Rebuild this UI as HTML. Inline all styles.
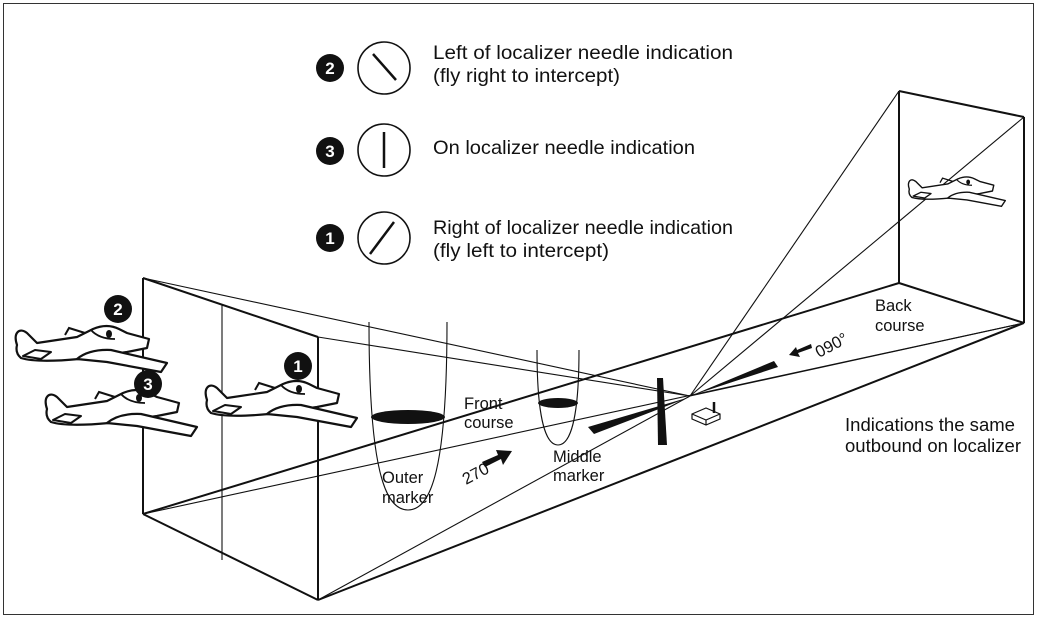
<!DOCTYPE html>
<html><head><meta charset="utf-8"><style>
html,body{margin:0;padding:0;background:#fff;}
svg{display:block;}
text{font-family:"Liberation Sans",Arial,sans-serif;fill:#111;}
</style></head><body>
<svg width="1038" height="619" viewBox="0 0 1038 619" xmlns="http://www.w3.org/2000/svg">
<defs>
<g id="plane">
  <path d="M2,22 C-2,10 4,4 12,10 L22,20 L62,14 L78,6 Q92,0 104,6 L112,10 L134,16 L132,25 L112,29 L64,36 Q22,40 6,35 Q0,30 2,22 Z" fill="#fff" stroke="#111" stroke-width="2.2" stroke-linejoin="round"/>
  <path d="M62,36 Q74,26 96,27 L152,40 L146,49 L92,39 Z" fill="#fff" stroke="#111" stroke-width="2.2" stroke-linejoin="round"/>
  <path d="M8,33 L20,27 L36,29 L26,36 Z" fill="#fff" stroke="#111" stroke-width="2" stroke-linejoin="round"/>
  <path d="M50,12 L54,5 L70,10" fill="none" stroke="#111" stroke-width="2"/>
  <path d="M76,7 Q84,16 100,16" fill="none" stroke="#111" stroke-width="1.8"/>
  <ellipse cx="94" cy="11" rx="3" ry="4" fill="#111"/>
</g>
</defs>
<rect x="3.5" y="3.5" width="1030" height="611" fill="none" stroke="#333" stroke-width="1"/>

<g stroke="#111" stroke-width="1.1" fill="none">
  <line x1="143" y1="278" x2="690" y2="396"/>
  <line x1="318" y1="337" x2="690" y2="396"/>
  <line x1="318" y1="600" x2="690" y2="396"/>
  <line x1="690" y1="396" x2="899" y2="91"/>
  <line x1="690" y1="396" x2="1024" y2="117"/>
  <line x1="690" y1="396" x2="1024" y2="323"/>
  <line x1="143" y1="514" x2="1024" y2="323"/>
  <line x1="222" y1="305" x2="222" y2="560"/>
</g>
<g stroke="#111" stroke-width="2" fill="none">
  <line x1="143" y1="278" x2="143" y2="514"/>
  <line x1="143" y1="278" x2="318" y2="337"/>
  <line x1="318" y1="337" x2="318" y2="600"/>
  <line x1="143" y1="514" x2="318" y2="600"/>
  <line x1="143" y1="514" x2="899" y2="283"/>
  <line x1="318" y1="600" x2="1024" y2="323"/>
  <line x1="899" y1="91" x2="899" y2="283"/>
  <line x1="899" y1="91" x2="1024" y2="117"/>
  <line x1="1024" y1="117" x2="1024" y2="323"/>
  <line x1="899" y1="283" x2="1024" y2="323"/>
</g>

<path d="M369,322 C369,470 385,510 408,510 C431,510 447,470 447,322" fill="none" stroke="#111" stroke-width="1.1"/>
<ellipse cx="408" cy="417" rx="37" ry="7" fill="#111"/>
<path d="M537,350 C537,420 546,445 558,445 C570,445 579,420 579,350" fill="none" stroke="#111" stroke-width="1.1"/>
<ellipse cx="558" cy="403" rx="20" ry="5" fill="#111"/>

<polygon points="588,427 594,434 690,397" fill="#111"/>
<polygon points="690,396 774,361 778,367" fill="#111"/>
<polygon points="657,378 663,378 667,445 658,445" fill="#111"/>
<path d="M692,414 L706,408 L720,414 L720,419 L706,425 L692,419 Z M692,414 L706,420 L720,414 M706,420 L706,425" fill="#fff" stroke="#111" stroke-width="1.2"/>
<line x1="714" y1="402" x2="714" y2="413" stroke="#111" stroke-width="2.5"/>

<polygon points="482,462 498,455 496,450 512,451 503,465 501,459 485,467" fill="#111"/>
<polygon points="812,348 798,353 800,357 789,355 796,347 797,350 811,344" fill="#111"/>

<use href="#plane" transform="translate(15,323)"/>
<use href="#plane" transform="translate(45,387)"/>
<use href="#plane" transform="translate(205,378)"/>
<use href="#plane" transform="translate(908,175) scale(0.64)"/>

<g font-weight="bold" font-size="17" text-anchor="middle">
  <circle cx="118" cy="309" r="14" fill="#111"/><text x="118" y="315" style="fill:#fff">2</text>
  <circle cx="298" cy="366" r="14" fill="#111"/><text x="298" y="372" style="fill:#fff">1</text>
  <circle cx="148" cy="384" r="14" fill="#111"/><text x="148" y="390" style="fill:#fff">3</text>
  <circle cx="330" cy="68" r="14" fill="#111"/><text x="330" y="74" style="fill:#fff">2</text>
  <circle cx="330" cy="151" r="14" fill="#111"/><text x="330" y="157" style="fill:#fff">3</text>
  <circle cx="330" cy="238" r="14" fill="#111"/><text x="330" y="244" style="fill:#fff">1</text>
</g>

<g stroke="#111" fill="none">
  <circle cx="384" cy="68" r="26" stroke-width="1.6"/>
  <line x1="373" y1="54" x2="396" y2="80" stroke-width="2.5"/>
  <circle cx="384" cy="150" r="26" stroke-width="1.6"/>
  <line x1="384" y1="132" x2="384" y2="168" stroke-width="2.5"/>
  <circle cx="384" cy="238" r="26" stroke-width="1.6"/>
  <line x1="370" y1="254" x2="394" y2="222" stroke-width="2.5"/>
</g>

<g font-size="16.5">
  <g font-size="19.5">
  <text x="433" y="59" textLength="300" lengthAdjust="spacingAndGlyphs">Left of localizer needle indication</text>
  <text x="433" y="82" textLength="187" lengthAdjust="spacingAndGlyphs">(fly right to intercept)</text>
  <text x="433" y="154" textLength="262" lengthAdjust="spacingAndGlyphs">On localizer needle indication</text>
  <text x="433" y="234" textLength="300" lengthAdjust="spacingAndGlyphs">Right of localizer needle indication</text>
  <text x="433" y="257" textLength="176" lengthAdjust="spacingAndGlyphs">(fly left to intercept)</text>
  </g>
  <text x="464" y="409">Front</text>
  <text x="464" y="428">course</text>
  <text x="382" y="483">Outer</text>
  <text x="382" y="503">marker</text>
  <text x="553" y="462">Middle</text>
  <text x="553" y="481">marker</text>
  <text x="875" y="311">Back</text>
  <text x="875" y="331">course</text>
  <g font-size="18.5">
  <text x="845" y="431" textLength="170" lengthAdjust="spacingAndGlyphs">Indications the same</text>
  <text x="845" y="452" textLength="176" lengthAdjust="spacingAndGlyphs">outbound on localizer</text>
  </g>
  <text x="0" y="0" transform="translate(466,485) rotate(-28)">270°</text>
  <text x="0" y="0" transform="translate(819,358) rotate(-28)">090°</text>
</g>
</svg>
</body></html>
